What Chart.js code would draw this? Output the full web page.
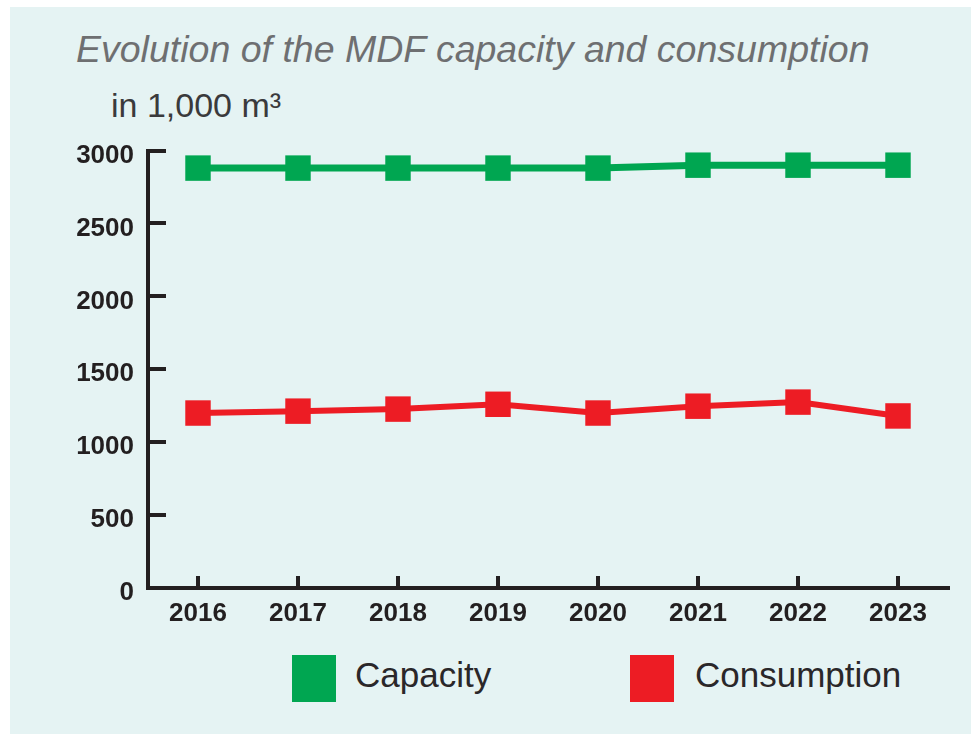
<!DOCTYPE html>
<html>
<head>
<meta charset="utf-8">
<script src="https://cdn.jsdelivr.net/npm/chart.js@4"></script>
<style>
  html, body { margin: 0; padding: 0; background: #ffffff; }
  body { width: 971px; height: 734px; position: relative; overflow: hidden; font-family: "Liberation Sans", Arial, sans-serif; }
  #panel { position: absolute; left: 10px; top: 7px; right: 0; bottom: 0; background: #e5f3f3; }
  .title { position: absolute; left: 76px; top: 31px; font-size: 37.5px; line-height: 1; font-style: italic; color: #6e6f71; white-space: nowrap; }
  .unit { position: absolute; left: 111px; top: 88px; font-size: 34px; line-height: 1; color: #3a3a3c; white-space: nowrap; }
  #chartBox { position: absolute; left: 0; top: 103px; width: 971px; height: 537px; }
  .legend-box { position: absolute; top: 655px; width: 44px; height: 47px; }
  .legend-text { position: absolute; top: 657px; font-size: 35px; line-height: 1; color: #2a2729; white-space: nowrap; }
</style>
</head>
<body>
<div id="panel"></div>
<div class="title">Evolution of the MDF capacity and consumption</div>
<div class="unit">in 1,000 m³</div>
<div id="chartBox"><canvas id="myChart"></canvas></div>
<div class="legend-box" style="left:292px;background:#00a651"></div>
<div class="legend-text" style="left:355px">Capacity</div>
<div class="legend-box" style="left:630px;background:#ed1c24"></div>
<div class="legend-text" style="left:695px">Consumption</div>

<script>
const years = ["2016", "2017", "2018", "2019", "2020", "2021", "2022", "2023"];
const capacity = [2880, 2880, 2880, 2880, 2880, 2900, 2900, 2900];
const consumption = [1200, 1213, 1227, 1260, 1200, 1247, 1275, 1180];
const yTicks = [0, 500, 1000, 1500, 2000, 2500, 3000];

const green = "#00a651";
const red = "#ed1c24";
const ink = "#231f20";
const tickFont = { family: "'Liberation Sans', Arial, sans-serif", size: 26, weight: "bold" };

const config = {
  type: "line",
  data: {
    labels: years,
    datasets: [
      {
        label: "Capacity",
        data: capacity,
        borderColor: green,
        backgroundColor: green,
        borderWidth: 7,
        pointStyle: "rect",
        pointRadius: 18,
        pointHoverRadius: 18,
        pointBorderWidth: 0,
        pointBackgroundColor: green,
        tension: 0,
        clip: false,
      },
      {
        label: "Consumption",
        data: consumption,
        borderColor: red,
        backgroundColor: red,
        borderWidth: 6,
        pointStyle: "rect",
        pointRadius: 18,
        pointHoverRadius: 18,
        pointBorderWidth: 0,
        pointBackgroundColor: red,
        tension: 0,
        clip: false,
      },
    ],
  },
  options: {
    responsive: true,
    maintainAspectRatio: false,
    animation: false,
    layout: { padding: { top: 0, left: 68, right: 23, bottom: 0 } },
    plugins: {
      legend: { display: false },
      title: { display: false },
      tooltip: { enabled: false },
    },
    scales: {
      x: {
        offset: true,
        afterFit: (scale) => { scale.height = 52; },
        border: { display: true, width: 4, color: ink },
        grid: { drawOnChartArea: false, drawTicks: true, tickLength: -12, lineWidth: 4, color: ink, offset: false },
        ticks: { color: ink, font: tickFont, padding: 22, maxRotation: 0 },
      },
      y: {
        min: 0,
        max: 3000,
        afterFit: (scale) => { scale.width = 80; },
        afterBuildTicks: (scale) => { scale.ticks = yTicks.map((v) => ({ value: v })); },
        border: { display: true, width: 4, color: ink },
        grid: { drawOnChartArea: false, drawTicks: true, tickLength: -18, lineWidth: 4, color: ink },
        ticks: { color: ink, font: tickFont, padding: 32, labelOffset: 5, callback: (v) => String(v) },
      },
    },
  },
};

new Chart(document.getElementById("myChart"), config);
</script>
</body>
</html>
